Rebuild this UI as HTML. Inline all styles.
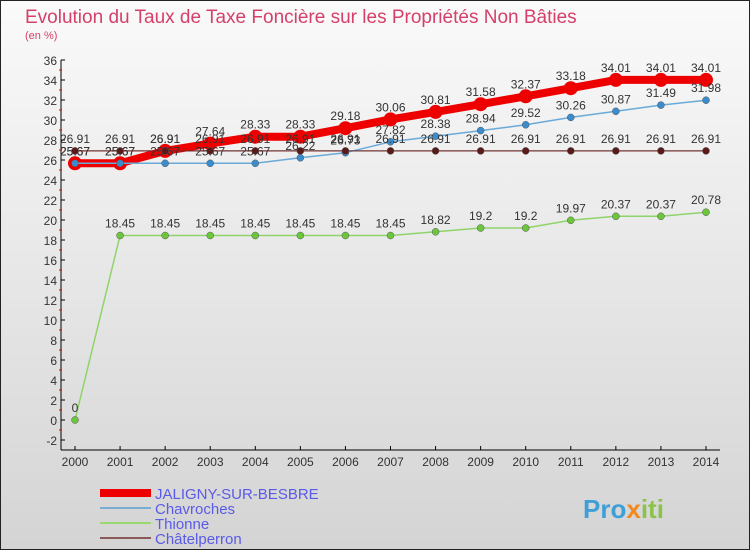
<!DOCTYPE html>
<html><head><meta charset="utf-8"><style>
body{margin:0;width:750px;height:550px;overflow:hidden;font-family:"Liberation Sans",sans-serif}
</style></head><body>
<svg id="c" width="750" height="550" xmlns="http://www.w3.org/2000/svg">
<defs><linearGradient id="bg" x1="0" y1="0" x2="0" y2="1"><stop offset="0" stop-color="#fafafa"/><stop offset="1" stop-color="#d4d4d4"/></linearGradient></defs>
<rect x="0.5" y="0.5" width="749" height="549" fill="url(#bg)" stroke="#222"/>
<text x="25" y="23" font-size="19" fill="#d5406a">Evolution du Taux de Taxe Foncière sur les Propriétés Non Bâties</text>
<text x="25" y="39" font-size="11" fill="#d5406a">(en %)</text>
<g id="axes"></g><g id="marks"></g><g id="legend"></g>
<text x="583" y="518" font-size="26" font-weight="bold" fill="#3fa0d8">Pro<tspan fill="#f08a20">x</tspan><tspan fill="#8bc34a">iti</tspan></text>
</svg>
<script>
const years=[2000,2001,2002,2003,2004,2005,2006,2007,2008,2009,2010,2011,2012,2013,2014];
const yTicks=[-2,0,2,4,6,8,10,12,14,16,18,20,22,24,26,28,30,32,34,36];
const seriesNames=["JALIGNY-SUR-BESBRE","Chavroches","Thionne","Châtelperron"];
const jaligny=[25.67,25.67,26.91,27.64,28.33,28.33,29.18,30.06,30.81,31.58,32.37,33.18,34.01,34.01,34.01];
const chavroches=[25.67,25.67,25.67,25.67,25.67,26.22,26.73,27.82,28.38,28.94,29.52,30.26,30.87,31.49,31.98];
const thionne=[0,18.45,18.45,18.45,18.45,18.45,18.45,18.45,18.82,19.2,19.2,19.97,20.37,20.37,20.78];
const chatelperron=[26.91,26.91,26.91,26.91,26.91,26.91,26.91,26.91,26.91,26.91,26.91,26.91,26.91,26.91,26.91];
const NS="http://www.w3.org/2000/svg";
const X=y=>75+(y-2000)*(706-75)/14;
const Y=v=>420-v*10;
function mk(p,t,a){const e=document.createElementNS(NS,t);for(const k in a)e.setAttribute(k,a[k]);p.appendChild(e);return e;}
const ax=document.getElementById('axes'),mg=document.getElementById('marks'),lg=document.getElementById('legend');
let l=mk(ax,'line',{x1:61,y1:60,x2:61,y2:450,stroke:'#000'});


l=mk(ax,'line',{x1:61,y1:450,x2:720,y2:450,stroke:'#000'});


yTicks.forEach(v=>{
 mk(ax,'line',{x1:61,y1:Y(v),x2:65,y2:Y(v),stroke:'#000'});
 if(v<36)mk(ax,'line',{x1:59,y1:Y(v+1),x2:62,y2:Y(v+1),stroke:'#e00'});
 const t=mk(ax,'text',{x:57,y:Y(v)+5,'font-size':12,fill:'#333','text-anchor':'end'});t.textContent=v;
 
 
});
years.forEach(y=>{
 mk(ax,'line',{x1:X(y),y1:446,x2:X(y),y2:450,stroke:'#000'});
 const t=mk(ax,'text',{x:X(y),y:466,'font-size':12,fill:'#333','text-anchor':'middle'});t.textContent=y;
 
 
});
mk(mg,'line',{x1:X(2000),y1:Y(26.91),x2:X(2014),y2:Y(26.91),stroke:'#6b2a2a','stroke-width':1});
const cfg=[[jaligny,'#e00',8,7,'#e00','jaligny'],[chavroches,'#6aaad8',1.5,3.5,'#3a8ccc','chavroches'],[thionne,'#8fd46a',1.5,3.5,'#6cc63c','thionne'],[chatelperron,'#6b2a2a',1,3.5,'#5a1a1a','chatelperron']];
cfg.forEach(([d,c,w,r,fc,nm])=>{
 const p=mk(mg,'polyline',{points:d.map((v,i)=>X(years[i])+','+Y(v)).join(' '),fill:'none',stroke:c,'stroke-width':w,'stroke-linejoin':'round'});
 
 
 d.forEach((v,i)=>{
  const pt=mk(mg,'circle',{cx:X(years[i]),cy:Y(v),r:r,fill:fc,stroke:nm==='jaligny'?'#e00':'#555','stroke-width':nm==='jaligny'?0:0.5});
  
  
  const t=mk(mg,'text',{x:X(years[i]),y:Y(v)-8,'font-size':12,fill:'#333','text-anchor':'middle'});t.textContent=v;
  
  
 });
});
const lc=[['#e00',8],['#7aaed0',2],['#9cd870',2],['#8a5a5a',2]];
seriesNames.forEach((n,i)=>{
 const y=493+i*15;
 mk(lg,'line',{x1:100,y1:y,x2:151,y2:y,stroke:lc[i][0],'stroke-width':lc[i][1]});
 const t=mk(lg,'text',{x:155,y:y+6,'font-size':15,fill:'#5a5ae8'});t.textContent=n;
 
 
});
</script>
</body></html>
